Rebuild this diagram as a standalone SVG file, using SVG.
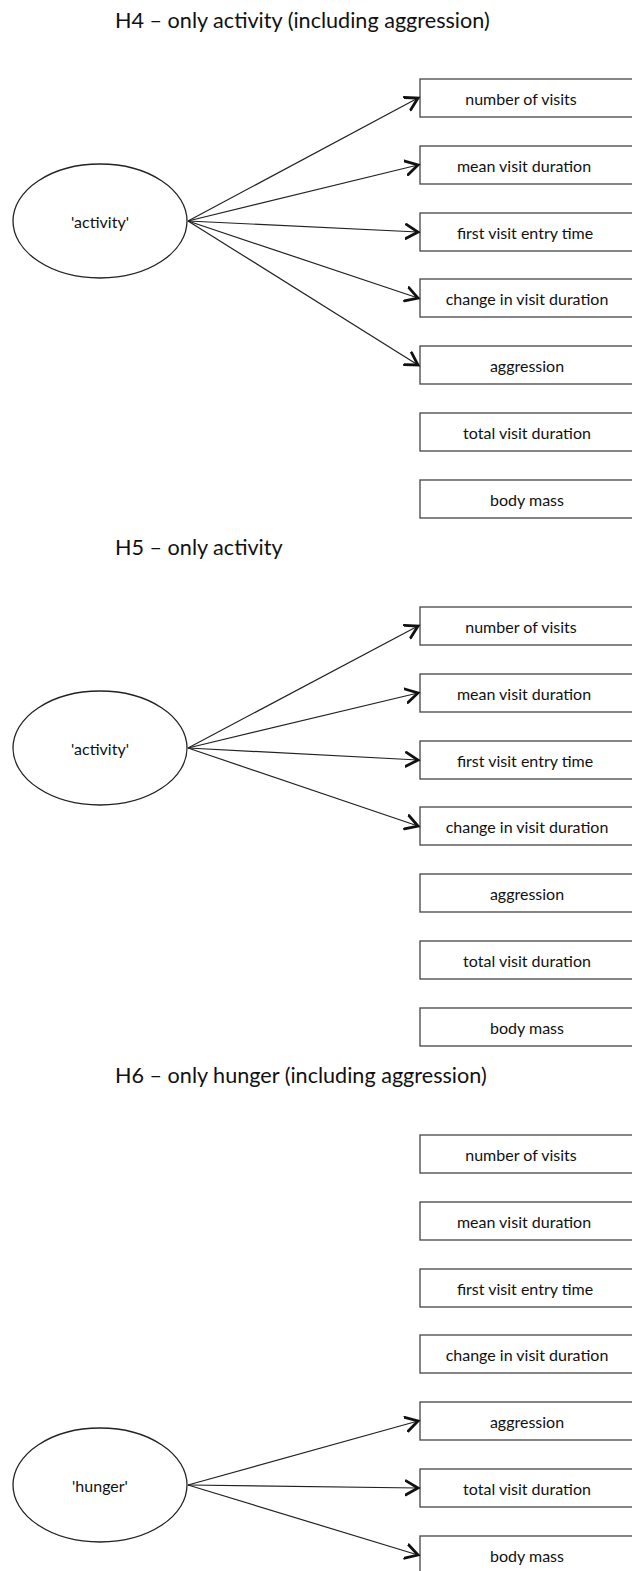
<svg xmlns="http://www.w3.org/2000/svg" width="632" height="1571" viewBox="0 0 632 1571">
<style>
.title{font-family:Lato,"Liberation Sans",sans-serif;font-size:21.6px;fill:#111}
.lbl{font-family:Lato,"Liberation Sans",sans-serif;font-size:16px;fill:#111;text-anchor:middle}
.box{fill:#fff;stroke:#444;stroke-width:1.3}
.ell{fill:#fff;stroke:#222;stroke-width:1.3}
.con{stroke:#222;stroke-width:1.2;fill:none;marker-end:url(#arr)}
</style>
<defs>
<marker id="arr" markerUnits="userSpaceOnUse" markerWidth="16" markerHeight="18" refX="13" refY="8" orient="auto" viewBox="0 0 16 16">
<path d="M1,1 L13,8 L1,15" fill="none" stroke="#111" stroke-width="2.8" stroke-linecap="round" stroke-linejoin="miter"/>
</marker>
</defs>
<rect width="632" height="1571" fill="#fff"/>
<text class="title" x="115" y="28">H4 – only activity (including aggression)</text>
<text class="title" x="115" y="555">H5 – only activity</text>
<text class="title" x="115" y="1083">H6 – only hunger (including aggression)</text>

<g id="s1-activity"><ellipse class="ell" cx="100" cy="221" rx="87" ry="57"/><text class="lbl" x="100" y="228">'activity'</text></g>
<g id="s1-n1"><rect class="box" x="420" y="79" width="230" height="38"/><text class="lbl" x="521" y="105">number of visits</text></g>
<g id="s1-n2"><rect class="box" x="420" y="146" width="230" height="38"/><text class="lbl" x="524" y="172">mean visit duration</text></g>
<g id="s1-n3"><rect class="box" x="420" y="213" width="230" height="38"/><text class="lbl" x="525" y="239">first visit entry time</text></g>
<g id="s1-n4"><rect class="box" x="420" y="279" width="230" height="38"/><text class="lbl" x="527" y="305">change in visit duration</text></g>
<g id="s1-n5"><rect class="box" x="420" y="346" width="230" height="38"/><text class="lbl" x="527" y="372">aggression</text></g>
<g id="s1-n6"><rect class="box" x="420" y="413" width="230" height="38"/><text class="lbl" x="527" y="439">total visit duration</text></g>
<g id="s1-n7"><rect class="box" x="420" y="480" width="230" height="38"/><text class="lbl" x="527" y="506">body mass</text></g>

<g id="s2-activity"><ellipse class="ell" cx="100" cy="748" rx="87" ry="57"/><text class="lbl" x="100" y="755">'activity'</text></g>
<g id="s2-n1"><rect class="box" x="420" y="607" width="230" height="38"/><text class="lbl" x="521" y="633">number of visits</text></g>
<g id="s2-n2"><rect class="box" x="420" y="674" width="230" height="38"/><text class="lbl" x="524" y="700">mean visit duration</text></g>
<g id="s2-n3"><rect class="box" x="420" y="741" width="230" height="38"/><text class="lbl" x="525" y="767">first visit entry time</text></g>
<g id="s2-n4"><rect class="box" x="420" y="807" width="230" height="38"/><text class="lbl" x="527" y="833">change in visit duration</text></g>
<g id="s2-n5"><rect class="box" x="420" y="874" width="230" height="38"/><text class="lbl" x="527" y="900">aggression</text></g>
<g id="s2-n6"><rect class="box" x="420" y="941" width="230" height="38"/><text class="lbl" x="527" y="967">total visit duration</text></g>
<g id="s2-n7"><rect class="box" x="420" y="1008" width="230" height="38"/><text class="lbl" x="527" y="1034">body mass</text></g>

<g id="s3-hunger"><ellipse class="ell" cx="100" cy="1485" rx="87" ry="57"/><text class="lbl" x="100" y="1492">'hunger'</text></g>
<g id="s3-n1"><rect class="box" x="420" y="1135" width="230" height="38"/><text class="lbl" x="521" y="1161">number of visits</text></g>
<g id="s3-n2"><rect class="box" x="420" y="1202" width="230" height="38"/><text class="lbl" x="524" y="1228">mean visit duration</text></g>
<g id="s3-n3"><rect class="box" x="420" y="1269" width="230" height="38"/><text class="lbl" x="525" y="1295">first visit entry time</text></g>
<g id="s3-n4"><rect class="box" x="420" y="1335" width="230" height="38"/><text class="lbl" x="527" y="1361">change in visit duration</text></g>
<g id="s3-n5"><rect class="box" x="420" y="1402" width="230" height="38"/><text class="lbl" x="527" y="1428">aggression</text></g>
<g id="s3-n6"><rect class="box" x="420" y="1469" width="230" height="38"/><text class="lbl" x="527" y="1495">total visit duration</text></g>
<g id="s3-n7"><rect class="box" x="420" y="1536" width="230" height="38"/><text class="lbl" x="527" y="1562">body mass</text></g>

<g id="connectors">
<line class="con" x1="188" y1="221" x2="418" y2="98"/>
<line class="con" x1="188" y1="221" x2="418" y2="165"/>
<line class="con" x1="188" y1="221" x2="418" y2="232"/>
<line class="con" x1="188" y1="221" x2="418" y2="298"/>
<line class="con" x1="188" y1="221" x2="418" y2="365"/>
<line class="con" x1="188" y1="748" x2="418" y2="626"/>
<line class="con" x1="188" y1="748" x2="418" y2="693"/>
<line class="con" x1="188" y1="748" x2="418" y2="760"/>
<line class="con" x1="188" y1="748" x2="418" y2="826"/>
<line class="con" x1="188" y1="1485" x2="418" y2="1421"/>
<line class="con" x1="188" y1="1485" x2="418" y2="1488"/>
<line class="con" x1="188" y1="1485" x2="418" y2="1555"/>
</g>
</svg>
